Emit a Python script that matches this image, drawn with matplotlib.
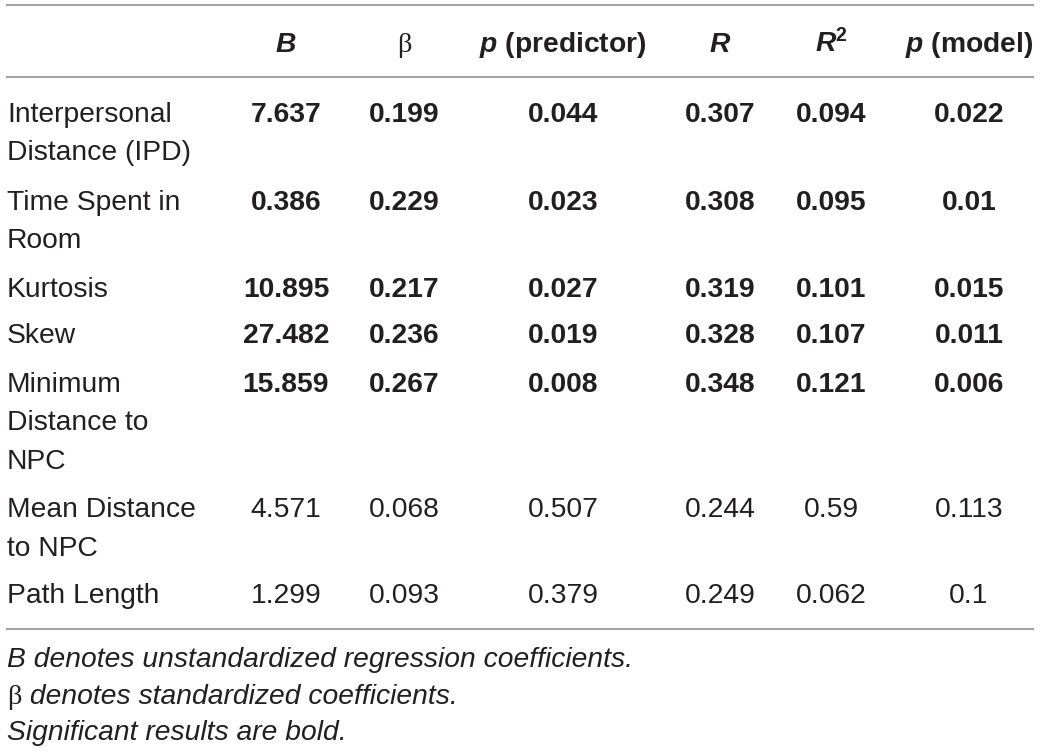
import matplotlib.pyplot as plt

plt.rcParams['font.family'] = ['Liberation Sans', 'DejaVu Sans']
plt.rcParams['mathtext.fontset'] = 'custom'
plt.rcParams['mathtext.bf'] = 'Liberation Sans:bold'
plt.rcParams['mathtext.it'] = 'Liberation Sans:italic'
plt.rcParams['mathtext.bfit'] = 'Liberation Sans:bold:italic'
plt.rcParams['mathtext.rm'] = 'Liberation Sans'

# table content
row_labels = [
    ["Interpersonal", "Distance (IPD)"],
    ["Time Spent in", "Room"],
    ["Kurtosis"],
    ["Skew"],
    ["Minimum", "Distance to", "NPC"],
    ["Mean Distance", "to NPC"],
    ["Path Length"],
]
B_vals = ["7.637", "0.386", "10.895", "27.482", "15.859", "4.571", "1.299"]
beta_vals = ["0.199", "0.229", "0.217", "0.236", "0.267", "0.068", "0.093"]
p_pred = ["0.044", "0.023", "0.027", "0.019", "0.008", "0.507", "0.379"]
R_vals = ["0.307", "0.308", "0.319", "0.328", "0.348", "0.244", "0.249"]
R2_vals = ["0.094", "0.095", "0.101", "0.107", "0.121", "0.59", "0.062"]
p_model = ["0.022", "0.01", "0.015", "0.011", "0.006", "0.113", "0.1"]
significant = [True, True, True, True, True, False, False]

footnotes = [
    "B denotes unstandardized regression coefficients.",
    "\u03b2 denotes standardized coefficients.",
    "Significant results are bold.",
]

# layout (pixels)
W, H = 1040, 752
col_x = [286, 404, 563, 720, 831, 969]
label_x = 7
header_y = 52
row_y = [122, 210, 297, 343, 392, 517, 603]
line_step = 38.5
rule_y = [5, 77, 629]
foot_y = [667, 704, 740]
fs = 20.3
txt_color = '#231f20'
rule_color = '#a3a3a3'

fig = plt.figure(figsize=(W / 100, H / 100), dpi=100)
ax = fig.add_axes([0, 0, 1, 1])
ax.set_xlim(0, W)
ax.set_ylim(H, 0)
ax.axis('off')

for y in rule_y:
    ax.plot([6, 1034], [y, y], color=rule_color, lw=1.5, solid_capstyle='butt')

# header
ax.text(col_x[0], header_y, r'$\mathbfit{B}$', ha='center', va='baseline',
        fontsize=fs, color=txt_color)
ax.text(col_x[1], header_y, '\u03b2', ha='center', va='baseline',
        fontsize=fs, color=txt_color, family='Liberation Serif')
ax.text(col_x[2], header_y, r'$\mathbfit{p}$ (predictor)', ha='center', va='baseline',
        fontsize=fs, color=txt_color, fontweight='bold')
ax.text(col_x[3], header_y, r'$\mathbfit{R}$', ha='center', va='baseline',
        fontsize=fs, color=txt_color)
ax.text(col_x[4], header_y, r'$\mathbfit{R}^{\mathbf{2}}$', ha='center', va='baseline',
        fontsize=fs, color=txt_color)
ax.text(col_x[5], header_y, r'$\mathbfit{p}$ (model)', ha='center', va='baseline',
        fontsize=fs, color=txt_color, fontweight='bold')

# body
columns = [B_vals, beta_vals, p_pred, R_vals, R2_vals, p_model]
for i, y in enumerate(row_y):
    for k, line in enumerate(row_labels[i]):
        ax.text(label_x, y + k * line_step, line, ha='left', va='baseline',
                fontsize=fs, color=txt_color)
    weight = 'bold' if significant[i] else 'normal'
    for cx, col in zip(col_x, columns):
        ax.text(cx, y, col[i], ha='center', va='baseline', fontsize=fs,
                color=txt_color, fontweight=weight)

# footnotes
renderer = fig.canvas.get_renderer()
ax.text(label_x, foot_y[0], footnotes[0], ha='left', va='baseline',
        fontsize=fs, color=txt_color, style='italic')
b = ax.text(label_x, foot_y[1], footnotes[1][0], ha='left', va='baseline',
            fontsize=fs, color=txt_color, family='Liberation Serif')
bw = b.get_window_extent(renderer).width
ax.text(label_x + bw, foot_y[1], footnotes[1][1:], ha='left', va='baseline',
        fontsize=fs, color=txt_color, style='italic')
ax.text(label_x, foot_y[2], footnotes[2], ha='left', va='baseline',
        fontsize=fs, color=txt_color, style='italic')

fig.savefig('out.png', dpi=100)
